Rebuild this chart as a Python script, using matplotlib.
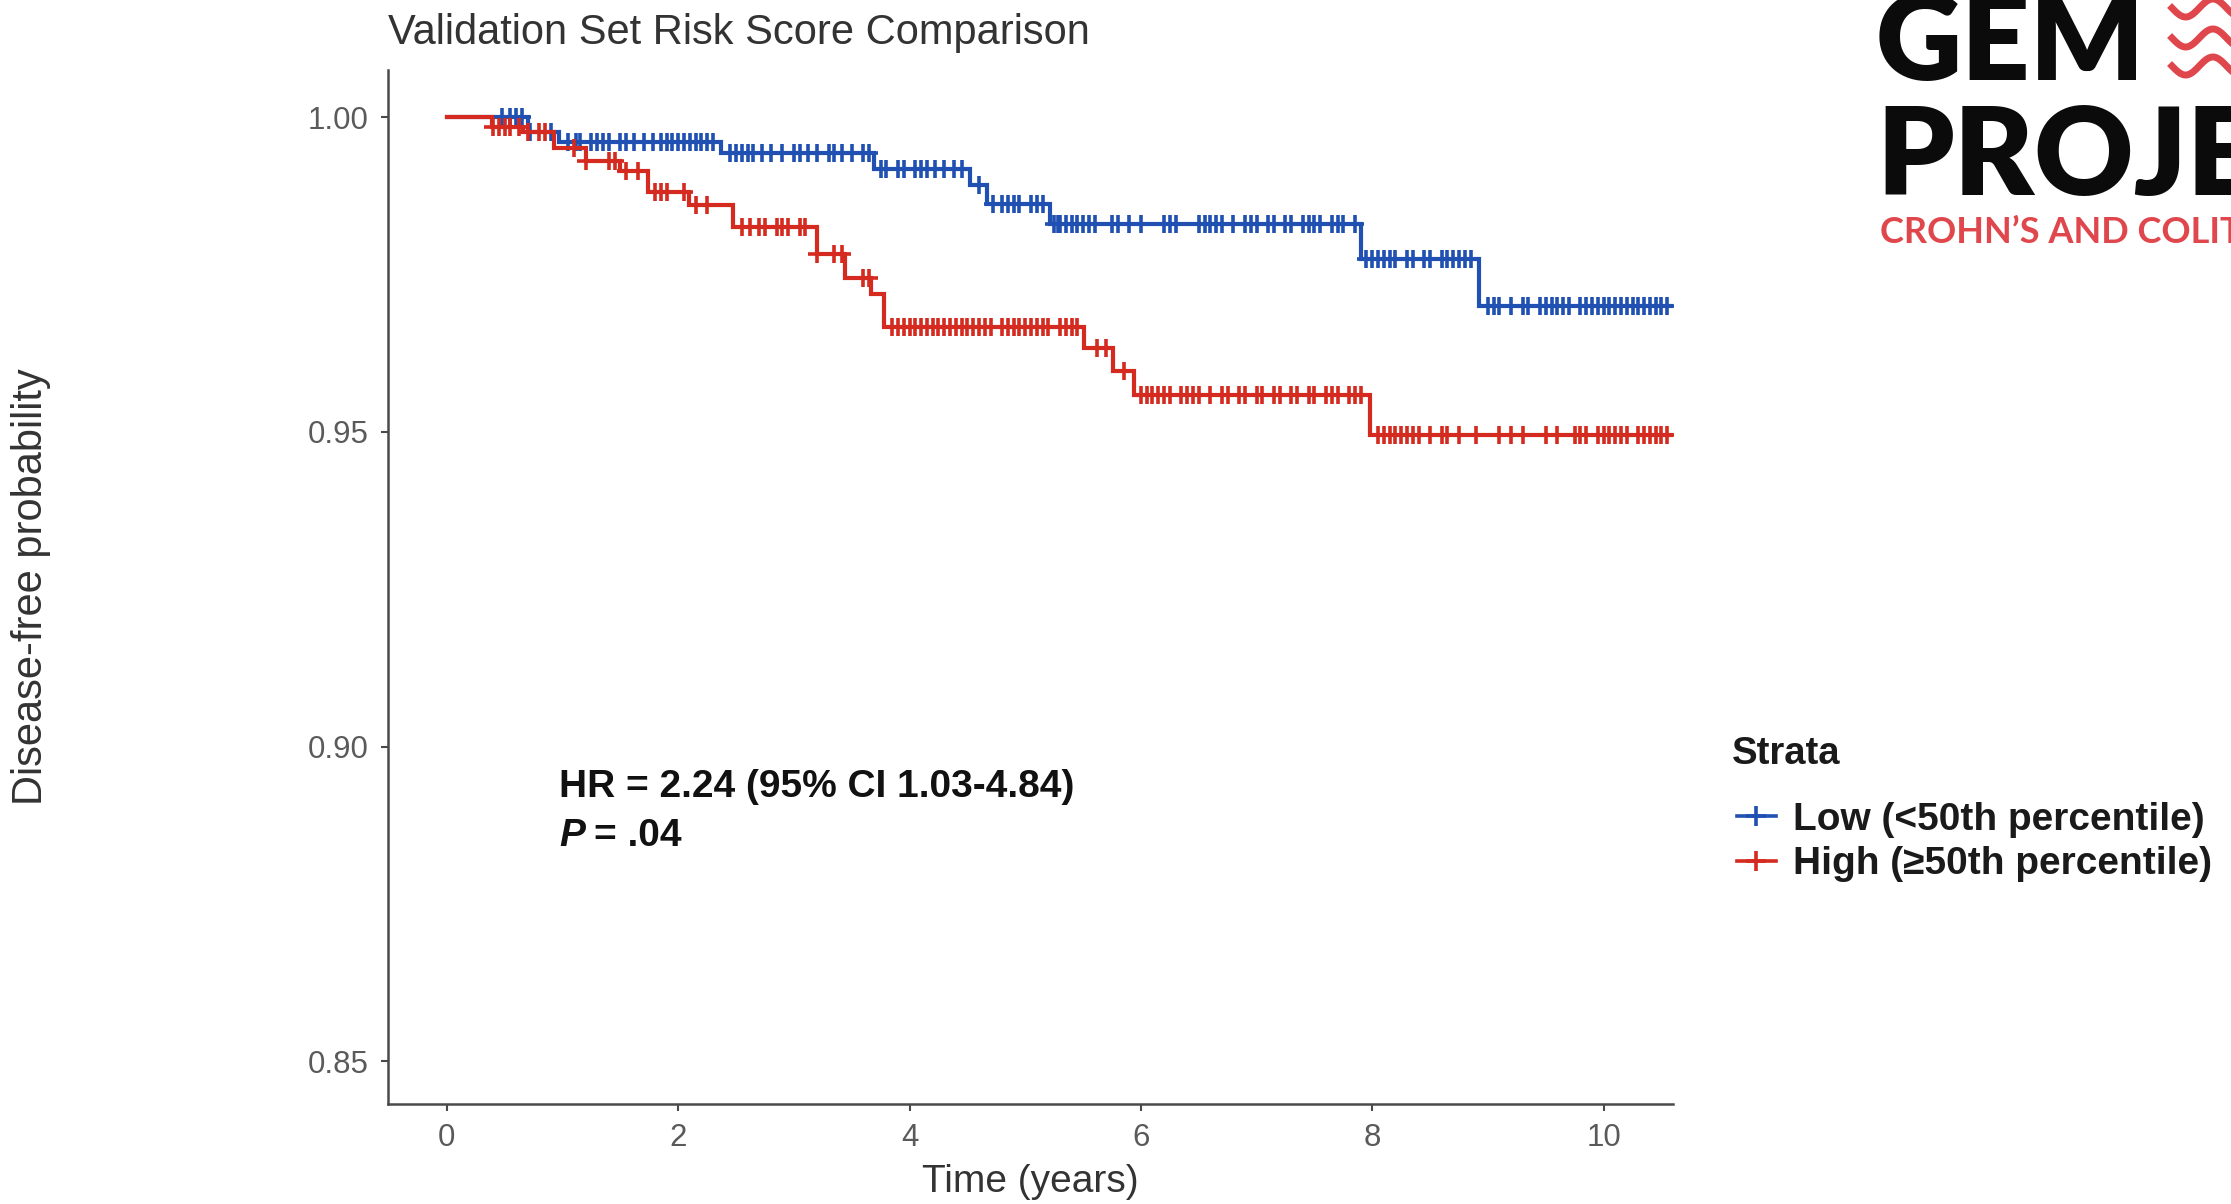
import matplotlib.pyplot as plt
import numpy as np
from matplotlib.lines import Line2D

plt.rcParams['font.family'] = ['Liberation Sans', 'DejaVu Sans']

# Kaplan-Meier steps (time in years, disease-free probability)
low_times = [0, 0.70, 0.97, 2.37, 3.69, 4.52, 4.67, 5.21, 7.90, 8.92]
low_surv = [1.0, 0.9977, 0.9961, 0.9943, 0.9918, 0.9892, 0.9862, 0.9831, 0.9775, 0.9700]
high_times = [0, 0.39, 0.66, 0.93, 1.20, 1.50, 1.74, 2.09, 2.47, 3.20, 3.44, 3.67, 3.78,
              5.51, 5.76, 5.94, 7.98]
high_surv = [1.0, 0.9985, 0.9977, 0.9951, 0.9930, 0.9915, 0.9881, 0.9861, 0.9825, 0.9783,
             0.9745, 0.9719, 0.9666, 0.9634, 0.9596, 0.9558, 0.9495]
t_end = 10.62

# censoring marks
low_censor = [0.48, 0.55, 0.6, 0.65, 0.72, 0.9, 1.05, 1.12, 1.15, 1.25, 1.3, 1.35, 1.4, 1.5,
              1.55, 1.62, 1.7, 1.78, 1.85, 1.9, 1.95, 2.0, 2.05, 2.1, 2.15, 2.2, 2.25, 2.3,
              2.45, 2.5, 2.55, 2.6, 2.65, 2.72, 2.8, 2.9, 3.0, 3.05, 3.12, 3.2, 3.3, 3.35,
              3.42, 3.5, 3.6, 3.65, 3.75, 3.8, 3.9, 3.95, 4.05, 4.1, 4.15, 4.22, 4.3, 4.38,
              4.45, 4.6, 4.72, 4.8, 4.85, 4.9, 4.95, 5.05, 5.1, 5.15, 5.25, 5.28, 5.3, 5.35,
              5.4, 5.45, 5.5, 5.55, 5.6, 5.75, 5.8, 5.9, 6.0, 6.2, 6.25, 6.3, 6.5, 6.55,
              6.6, 6.65, 6.7, 6.8, 6.9, 6.95, 7.0, 7.1, 7.15, 7.25, 7.3, 7.4, 7.45, 7.5,
              7.55, 7.65, 7.7, 7.75, 7.85, 7.95, 8.0, 8.05, 8.1, 8.15, 8.2, 8.3, 8.35, 8.45,
              8.5, 8.6, 8.65, 8.7, 8.75, 8.8, 8.85, 9.0, 9.05, 9.1, 9.2, 9.3, 9.35, 9.45,
              9.5, 9.55, 9.6, 9.65, 9.7, 9.8, 9.85, 9.9, 9.95, 10.0, 10.05, 10.1, 10.15,
              10.2, 10.25, 10.3, 10.35, 10.4, 10.45, 10.5, 10.55]
high_censor = [0.4, 0.45, 0.5, 0.55, 0.62, 0.7, 0.8, 0.85, 1.1, 1.2, 1.4, 1.45, 1.55, 1.65,
               1.8, 1.85, 1.9, 2.05, 2.15, 2.25, 2.55, 2.62, 2.7, 2.75, 2.85, 2.9, 2.95,
               3.05, 3.1, 3.2, 3.35, 3.42, 3.6, 3.65, 3.85, 3.9, 3.95, 4.0, 4.05, 4.1, 4.15,
               4.2, 4.25, 4.3, 4.35, 4.4, 4.45, 4.5, 4.55, 4.6, 4.65, 4.7, 4.8, 4.85, 4.9,
               4.95, 5.0, 5.05, 5.1, 5.15, 5.2, 5.3, 5.35, 5.4, 5.45, 5.62, 5.7, 5.85, 6.0,
               6.05, 6.1, 6.15, 6.2, 6.25, 6.35, 6.4, 6.45, 6.5, 6.6, 6.7, 6.75, 6.85, 6.9,
               7.0, 7.05, 7.15, 7.2, 7.3, 7.35, 7.45, 7.5, 7.6, 7.65, 7.7, 7.8, 7.85, 7.9,
               8.05, 8.1, 8.15, 8.2, 8.25, 8.3, 8.35, 8.4, 8.5, 8.6, 8.65, 8.75, 8.9, 9.1,
               9.2, 9.3, 9.5, 9.6, 9.75, 9.8, 9.85, 9.95, 10.0, 10.05, 10.1, 10.15, 10.2,
               10.3, 10.35, 10.4, 10.45, 10.5, 10.55]

labels = ['Low (<50th percentile)', 'High (\u226550th percentile)']
colors = ['#1f50b2', '#d42a1f']
x_ticks = [0, 2, 4, 6, 8, 10]
y_ticks = [0.85, 0.90, 0.95, 1.00]

W, H = 2231, 1204
fig = plt.figure(figsize=(W / 100, H / 100), dpi=100)
ax = fig.add_axes([388 / W, 1 - 1104 / H, 1285 / W, 1034 / H])

for times, surv, cens, col in [(low_times, low_surv, low_censor, colors[0]),
                               (high_times, high_surv, high_censor, colors[1])]:
    ts = np.r_[times, t_end]
    ss = np.r_[surv, surv[-1]]
    ax.step(ts, ss, where='post', color=col, lw=3.0, solid_joinstyle='miter')
    idx = np.searchsorted(times, cens, side='right') - 1
    ax.plot(cens, np.asarray(surv)[idx], ls='none', marker='+', ms=13, mew=2.6, color=col)

ax.set_xlim(-0.509, 10.60)
ax.set_ylim(0.8432, 1.0075)
ax.set_xticks(x_ticks)
ax.set_xticklabels([str(v) for v in x_ticks])
ax.set_yticks(y_ticks)
ax.set_yticklabels([f'{v:.2f}' for v in y_ticks])

for s in ['top', 'right']:
    ax.spines[s].set_visible(False)
for s in ['left', 'bottom']:
    ax.spines[s].set_color('#4a4a4a')
    ax.spines[s].set_linewidth(1.8)
ax.tick_params(axis='both', colors='#4a4a4a', length=5, width=1.5, labelsize=22.5,
               labelcolor='#5a5a5a', pad=9)

ax.set_xlabel('Time (years)', fontsize=28, color='#333333')
ax.xaxis.set_label_coords(0.5, -0.058)
ax.set_ylabel('Disease-free probability', fontsize=30, color='#333333')
ax.yaxis.set_label_coords(-0.262, 0.5)
ax.set_title('Validation Set Risk Score Comparison', loc='left', fontsize=30,
             color='#333333', pad=19)

ax.text(0.97, 0.8935, 'HR = 2.24 (95% CI 1.03-4.84)', fontsize=28, fontweight='bold',
        va='center', ha='left', color='#111111')
ax.text(0.97, 0.8858, 'P', fontsize=28, fontweight='bold', style='italic',
        va='center', ha='left', color='#111111')
ax.annotate('= .04', xy=(0.97, 0.8858), xytext=(25.5, 0), textcoords='offset points',
            fontsize=28, fontweight='bold', va='center', ha='left', color='#111111')

# legend: title as its own text so the gap to the entries matches
fig.text(1732 / W, 1 - 754 / H, 'Strata', fontsize=27.5, fontweight='bold',
         va='center', ha='left', color='#1a1a1a')
handles = [Line2D([], [], color=c, lw=2.6, marker='+', ms=15, mew=2.6) for c in colors]
leg = ax.legend(handles, labels, loc='center left', bbox_to_anchor=(1737 / W, 1 - 842 / H),
                bbox_transform=fig.transFigure, frameon=False,
                prop={'weight': 'bold', 'size': 28},
                handlelength=1.0, handletextpad=0.45,
                labelspacing=0.22, borderpad=0, borderaxespad=0)
for t in leg.get_texts():
    t.set_color('#1a1a1a')

# logo in the top-right corner
fig.text(1876 / W, 1 - 80 / H, 'GEM', fontsize=86, fontweight='heavy',
         family=['Lato', 'DejaVu Sans'], va='baseline', ha='left', color='#0b0b0b')
fig.text(1876 / W, 1 - 195 / H, 'PROJECT', fontsize=88, fontweight='heavy',
         family=['Lato', 'DejaVu Sans'], va='baseline', ha='left', color='#0b0b0b')
fig.text(1880 / W, 1 - 243 / H, 'CROHN\u2019S AND COLITIS FOUNDATION', fontsize=26,
         fontweight='bold', family=['Lato', 'DejaVu Sans'], va='baseline', ha='left',
         color='#e0474c')
u = np.linspace(0, 1, 60)
for y0 in [8, 38, 66]:
    xs = (2172 + 60 * u) / W
    ys = 1 - (y0 + 9 * np.sin(u * 2.2 * np.pi)) / H
    fig.add_artist(Line2D(xs, ys, color='#e0474c', lw=5, transform=fig.transFigure))

fig.savefig('out.png', dpi=100)
